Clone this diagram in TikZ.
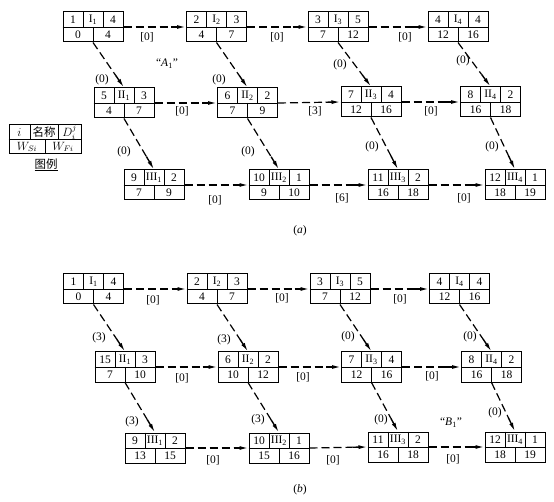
\documentclass[tikz,border=0pt]{standalone}
\usepackage{fontspec}
\setmainfont{Liberation Serif}
\newfontfamily\cjk{Noto Sans CJK SC}
\usetikzlibrary{calc,arrows.meta}
\tikzset{
  wb/.style={draw, line width=1pt, minimum width=60pt, minimum height=30pt, inner sep=0pt},
  inner/.style={line width=0.85pt},
  cell/.style={inner sep=0pt, font=\fontsize{11.5}{12}\selectfont},
  dl/.style={line width=1.2pt, dash pattern=on 8pt off 4pt},
  hl/.style={line width=1.4pt, -{Latex[length=9pt,width=4pt]}},
  lab/.style={inner sep=0pt, font=\fontsize{11.5}{12}\selectfont},
}
\newcommand\rn[2]{#1\textsubscript{#2}}
\newcommand\wbox[8]{%
  \node[wb] (#1) at (#2,#3) {};
  \draw[inner] (#1.west) -- (#1.east)
    ([xshift=-10pt]#1.north) -- ([xshift=-10pt]#1.center)
    ([xshift=10pt]#1.north) -- ([xshift=10pt]#1.center)
    (#1.center) -- (#1.south);
  \node[cell] (#1-i) at ([xshift=-20pt,yshift=7.5pt]#1.center) {#4};
  \node[cell] (#1-n) at ([yshift=7.5pt]#1.center) {#5};
  \node[cell] (#1-d) at ([xshift=20pt,yshift=7.5pt]#1.center) {#6};
  \node[cell] (#1-s) at ([xshift=-15pt,yshift=-7.5pt]#1.center) {#7};
  \node[cell] (#1-f) at ([xshift=15pt,yshift=-7.5pt]#1.center) {#8};
}
\newcommand\conn[2]{%
  \draw[dl] (#1) -- ($(#2)!15pt!(#1)$);
  \draw[hl] ($(#2)!15pt!(#1)$) -- (#2);
}
\begin{document}
\begin{tikzpicture}[x=1pt,y=-1pt]
\useasboundingbox (0,0) rectangle (554,502);
% ---------- (a) ----------
\wbox{a1}{93}{27}{1}{\rn{I}{1}}{4}{0}{4}
\wbox{a2}{216.5}{27}{2}{\rn{I}{2}}{3}{4}{7}
\wbox{a3}{338}{27}{3}{\rn{I}{3}}{5}{7}{12}
\wbox{a4}{458}{27}{4}{\rn{I}{4}}{4}{12}{16}
\wbox{a5}{124}{103}{5}{\rn{II}{1}}{3}{4}{7}
\wbox{a6}{247.5}{103}{6}{\rn{II}{2}}{2}{7}{9}
\wbox{a7}{371}{102}{7}{\rn{II}{3}}{4}{12}{16}
\wbox{a8}{490.5}{102}{8}{\rn{II}{4}}{2}{16}{18}
\wbox{a9}{154}{185}{9}{\rn{III}{1}}{2}{7}{9}
\wbox{a10}{279}{185}{10}{\rn{III}{2}}{1}{9}{10}
\wbox{a11}{398}{185}{11}{\rn{III}{3}}{2}{16}{18}
\wbox{a12}{515}{185}{12}{\rn{III}{4}}{1}{18}{19}
\conn{a1.east}{a2.west}\conn{a2.east}{a3.west}\conn{a3.east}{a4.west}
\conn{a5.east}{a6.west}\conn{a6.east}{a7.west}\conn{a7.east}{a8.west}
\conn{a9.east}{a10.west}\conn{a10.east}{a11.west}\conn{a11.east}{a12.west}
\conn{a1.south}{a5.north}\conn{a2.south}{a6.north}\conn{a3.south}{a7.north}\conn{a4.south}{a8.north}
\conn{a5.south}{a9.north}\conn{a6.south}{a10.north}\conn{a7.south}{a11.north}\conn{a8.south}{a12.north}
\node[lab] (ha1) at (147,37) {[0]};
\node[lab] (ha2) at (277,37) {[0]};
\node[lab] (ha3) at (405,37) {[0]};
\node[lab] (ha4) at (182,111) {[0]};
\node[lab] (ha5) at (315,111) {[3]};
\node[lab] (ha6) at (431,111) {[0]};
\node[lab] (ha7) at (215,200) {[0]};
\node[lab] (ha8) at (342,198) {[6]};
\node[lab] (ha9) at (464,198) {[0]};
\node[lab] (da1) at (102,80) {(0)};
\node[lab] (da2) at (219,80) {(0)};
\node[lab] (da3) at (340,65) {(0)};
\node[lab] (da4) at (463,61) {(0)};
\node[lab] (da5) at (124,152) {(0)};
\node[lab] (da6) at (248,152) {(0)};
\node[lab] (da7) at (372,147) {(0)};
\node[lab] (da8) at (492,147) {(0)};
\node[lab] (A1) at (167,64) {“\textit{A}\textsubscript{1}”};
\node[lab] (capa) at (300,231) {(\textit{a})};
% legend
\node[wb, minimum width=72pt, minimum height=29pt] (leg) at (45,139.5) {};
\draw[inner] (leg.west) -- (leg.east)
  (30,125) -- (30,139.5) (58,125) -- (58,139.5) (45,139.5) -- (45,154);
\node[cell] (leg-i) at (19.5,132.5) {$i$};
\node[cell] (leg-n) at (44,132.5) {\cjk 名称};
\node[cell] (leg-d) at (69.5,132.5) {$D_i^j$};
\node[cell] (leg-s) at (27,147) {$W_{Si}$};
\node[cell] (leg-f) at (63,147) {$W_{Fi}$};
\node[lab] (legcap) at (46,165) {\underline{\cjk 图例}};
% ---------- (b) ----------
\wbox{b1}{93.5}{289}{1}{\rn{I}{1}}{4}{0}{4}
\wbox{b2}{217}{289}{2}{\rn{I}{2}}{3}{4}{7}
\wbox{b3}{340}{289}{3}{\rn{I}{3}}{5}{7}{12}
\wbox{b4}{459.5}{289}{4}{\rn{I}{4}}{4}{12}{16}
\wbox{b5}{125}{367}{15}{\rn{II}{1}}{3}{7}{10}
\wbox{b6}{248}{367}{6}{\rn{II}{2}}{2}{10}{12}
\wbox{b7}{371.5}{367}{7}{\rn{II}{3}}{4}{12}{16}
\wbox{b8}{491.5}{367}{8}{\rn{II}{4}}{2}{16}{18}
\wbox{b9}{155}{448}{9}{\rn{III}{1}}{2}{13}{15}
\wbox{b10}{279}{448}{10}{\rn{III}{2}}{1}{15}{16}
\wbox{b11}{398}{447}{11}{\rn{III}{3}}{2}{16}{18}
\wbox{b12}{515}{447}{12}{\rn{III}{4}}{1}{18}{19}
\conn{b1.east}{b2.west}\conn{b2.east}{b3.west}\conn{b3.east}{b4.west}
\conn{b5.east}{b6.west}\conn{b6.east}{b7.west}\conn{b7.east}{b8.west}
\conn{b9.east}{b10.west}\conn{b10.east}{b11.west}\conn{b11.east}{b12.west}
\conn{b1.south}{b5.north}\conn{b2.south}{b6.north}\conn{b3.south}{b7.north}\conn{b4.south}{b8.north}
\conn{b5.south}{b9.north}\conn{b6.south}{b10.north}\conn{b7.south}{b11.north}\conn{b8.south}{b12.north}
\node[lab] (hb1) at (153,300) {[0]};
\node[lab] (hb2) at (282,298) {[0]};
\node[lab] (hb3) at (400,299) {[0]};
\node[lab] (hb4) at (182,378) {[0]};
\node[lab] (hb5) at (303,377) {[0]};
\node[lab] (hb6) at (432,376) {[0]};
\node[lab] (hb7) at (213,460) {[0]};
\node[lab] (hb8) at (333,460) {[0]};
\node[lab] (hb9) at (453,459) {[0]};
\node[lab] (db1) at (99,338) {(3)};
\node[lab] (db2) at (224,340) {(3)};
\node[lab] (db3) at (348,337) {(0)};
\node[lab] (db4) at (470,337) {(0)};
\node[lab] (db5) at (132,422) {(3)};
\node[lab] (db6) at (258,420) {(3)};
\node[lab] (db7) at (381,420) {(0)};
\node[lab] (db8) at (495,413) {(0)};
\node[lab] (B1) at (451,423) {“\textit{B}\textsubscript{1}”};
\node[lab] (capb) at (300,490) {(\textit{b})};
\end{tikzpicture}
\end{document}
